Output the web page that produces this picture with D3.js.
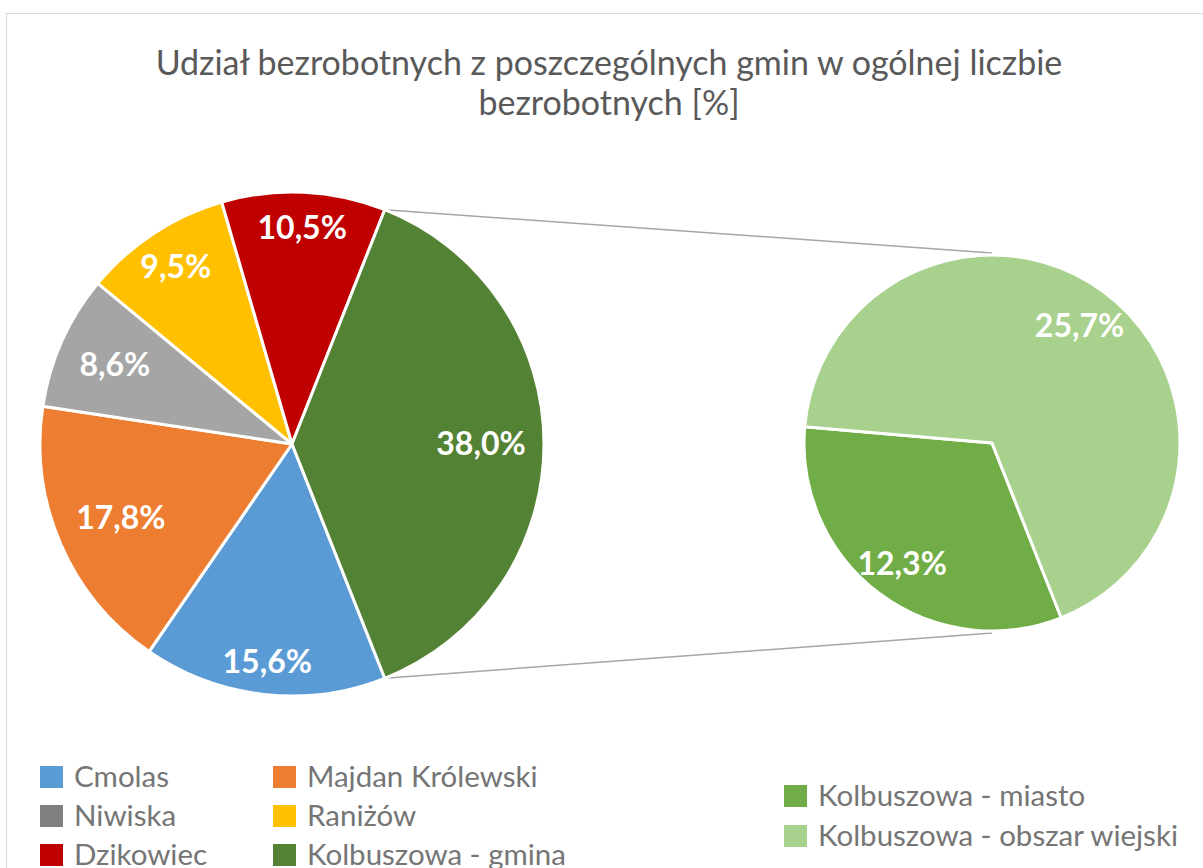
<!DOCTYPE html>
<html>
<head>
<meta charset="utf-8">
<script src="https://cdn.jsdelivr.net/npm/d3@7"></script>
<style>
  body { margin: 0; background: #fff; }
  text { font-family: Lato, "Open Sans", sans-serif; }
</style>
</head>
<body>
<div id="chart"></div>
<script>
// main pie
var gminy = ["Cmolas", "Majdan Królewski", "Niwiska", "Raniżów", "Dzikowiec", "Kolbuszowa - gmina"];
var udzial = [15.6, 17.8, 8.6, 9.5, 10.5, 38.0];
// second pie (split of Kolbuszowa - gmina)
var kolbuszowa = ["Kolbuszowa - miasto", "Kolbuszowa - obszar wiejski"];
var kolbUdzial = [12.3, 25.7];

var titleLines = ["Udział bezrobotnych z poszczególnych gmin w ogólnej liczbie", "bezrobotnych [%]"];

var colors = ["#5B9BD5", "#ED7D31", "#A5A5A5", "#FFC000", "#C00000", "#548235"];
var legendSwatch = ["#5B9BD5", "#ED7D31", "#808080", "#FFC000", "#C00000", "#548235"];
var colors2 = ["#70AD47", "#A9D18E"];

// label distance from centre, as share of radius
var labelR = [0.87, 0.74, 0.77, 0.84, 0.86, 0.75];
var labelR2 = [0.80, 0.78];

var w = 1203, h = 868;

var svg = d3.select("#chart").append("svg")
    .attr("width", w)
    .attr("height", h);

// chart area border
svg.append("rect")
    .attr("x", 6.5)
    .attr("y", 13.5)
    .attr("width", 1210)
    .attr("height", 900)
    .style("fill", "#fff")
    .style("stroke", "#d9d9d9")
    .style("stroke-width", 1);

// title
svg.append("text")
    .attr("x", 609)
    .attr("y", 75)
    .attr("text-anchor", "middle")
    .style("font-size", "34px")
    .style("fill", "#595959")
    .selectAll("tspan")
    .data(titleLines)
    .enter()
    .append("tspan")
    .attr("x", 609)
    .attr("dy", function (d, i) { return i === 0 ? 0 : 40; })
    .text(function (d) { return d; });

var cx1 = 292, cy1 = 444, r1 = 252;
var cx2 = 992, cy2 = 443, r2 = 188;

// split slice (last one) is centred on the right side
var splitAngle = 2 * Math.PI * udzial[udzial.length - 1] / d3.sum(udzial);
var start = Math.PI / 2 + splitAngle / 2;

var pie = d3.pie().sort(null).startAngle(start).endAngle(start + 2 * Math.PI);
var arcs1 = pie(udzial);
var arcs2 = pie(kolbUdzial);

var arc1 = d3.arc().innerRadius(0).outerRadius(r1);
var arc2 = d3.arc().innerRadius(0).outerRadius(r2);

function pt(cx, cy, r, a) {
    return [cx + r * Math.sin(a), cy - r * Math.cos(a)];
}

// connector lines
var split = arcs1[arcs1.length - 1];
var p1 = pt(cx1, cy1, r1, split.startAngle);
var p2 = pt(cx1, cy1, r1, split.endAngle);
var connectors = [
    [p1, [cx2, cy2 - r2 - 2]],
    [p2, [cx2, cy2 + r2 + 2]]
];
svg.selectAll(".connector")
    .data(connectors)
    .enter()
    .append("line")
    .attr("class", "connector")
    .attr("x1", function (d) { return d[0][0]; })
    .attr("y1", function (d) { return d[0][1]; })
    .attr("x2", function (d) { return d[1][0]; })
    .attr("y2", function (d) { return d[1][1]; })
    .style("stroke", "#a6a6a6")
    .style("stroke-width", 1.5);

var g1 = svg.append("g").attr("transform", "translate(" + cx1 + "," + cy1 + ")");
g1.selectAll("path")
    .data(arcs1)
    .enter()
    .append("path")
    .attr("d", arc1)
    .style("fill", function (d, i) { return colors[i]; })
    .style("stroke", "#fff")
    .style("stroke-width", 3)
    .style("stroke-linejoin", "round");

var g2 = svg.append("g").attr("transform", "translate(" + cx2 + "," + cy2 + ")");
g2.selectAll("path")
    .data(arcs2)
    .enter()
    .append("path")
    .attr("d", arc2)
    .style("fill", function (d, i) { return colors2[i]; })
    .style("stroke", "#fff")
    .style("stroke-width", 3)
    .style("stroke-linejoin", "round");

function fmt(v) { return v.toFixed(1).replace(".", ",") + "%"; }

function labels(g, arcs, r, fr) {
    g.selectAll(".lbl")
        .data(arcs)
        .enter()
        .append("text")
        .attr("class", "lbl")
        .attr("transform", function (d, i) {
            var a = (d.startAngle + d.endAngle) / 2;
            var p = pt(0, 0, r * fr[i], a);
            return "translate(" + p[0] + "," + p[1] + ")";
        })
        .attr("text-anchor", "middle")
        .attr("dy", "0.35em")
        .style("font-size", "32px")
        .style("font-weight", "bold")
        .style("fill", "#fff")
        .text(function (d) { return fmt(d.value); });
}
labels(g1, arcs1, r1, labelR);
labels(g2, arcs2, r2, labelR2);

// legend
var legendLeft = gminy.map(function (name, i) {
    return { name: name, color: legendSwatch[i], x: i % 2 === 0 ? 40 : 273, y: 777 + Math.floor(i / 2) * 39 };
});
var legendRight = kolbuszowa.map(function (name, i) {
    return { name: name, color: colors2[i], x: 784, y: 796 + i * 40 };
});
var items = legendLeft.concat(legendRight);

var lg = svg.selectAll(".legend")
    .data(items)
    .enter()
    .append("g")
    .attr("class", "legend")
    .attr("transform", function (d) { return "translate(" + d.x + "," + d.y + ")"; });

lg.append("rect")
    .attr("x", 0)
    .attr("y", -11)
    .attr("width", 23)
    .attr("height", 22)
    .style("fill", function (d) { return d.color; });

lg.append("text")
    .attr("x", 34)
    .attr("dy", "0.35em")
    .style("font-size", "29.5px")
    .style("fill", "#757575")
    .text(function (d) { return d.name; });
</script>
</body>
</html>
